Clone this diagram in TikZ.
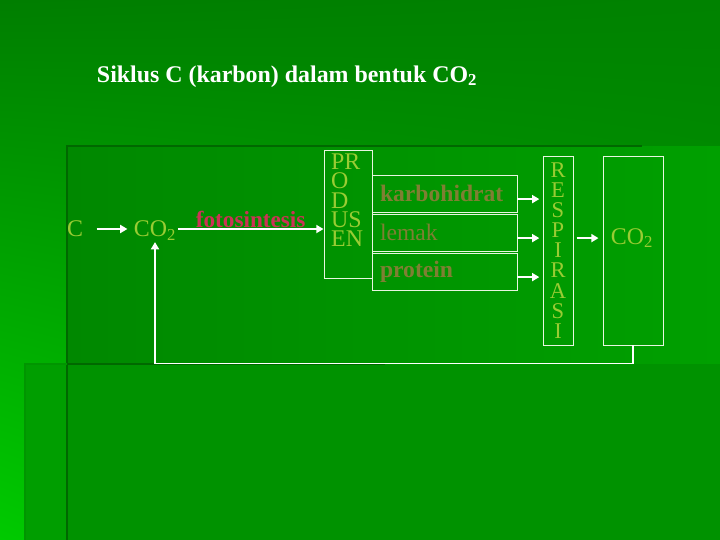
\documentclass[tikz,border=0pt]{standalone}
\usepackage{fontspec}
\setmainfont{Liberation Serif}
\usetikzlibrary{arrows.meta,positioning,shadings}
\definecolor{bgTop}{HTML}{007E00}
\definecolor{bgTopRight}{HTML}{008200}
\definecolor{bgBright}{HTML}{00CA00}
\definecolor{bgLow}{HTML}{009E00}
\definecolor{panelLeft}{HTML}{008800}
\definecolor{panelRight}{HTML}{00A000}
\definecolor{panelLow}{HTML}{009200}
\definecolor{stripLow}{HTML}{009E00}
\definecolor{rule}{HTML}{006800}
\definecolor{lime}{HTML}{99CC33}
\definecolor{olive}{HTML}{7F7F33}
\definecolor{rose}{HTML}{CC3355}
\definecolor{frame}{HTML}{E8F6E0}
\tikzset{
    >={Triangle[length=1.8mm,width=2mm]},
    decor/.style={rule, line width=2pt},
    lime text/.style={text=lime, font=\fontsize{17}{14}\selectfont, inner sep=1pt},
    frame box/.style={draw=frame, line width=0.7pt, inner sep=0pt},
    stuff box/.style={frame box, minimum width=3.625cm, minimum height=0.925cm,
                      text width=3.225cm, inner xsep=0.2cm, align=left, text=olive},
    tall box/.style={frame box, minimum height=4.725cm},
    flow/.style={white, line width=1.4pt, ->},
    title/.style={text=white, font=\bfseries\fontsize{17}{20}\selectfont},
}

\begin{document}
\begin{tikzpicture}

% ---------------------------------------------------------------------------
% background
% ---------------------------------------------------------------------------
\useasboundingbox (0,0) rectangle (18,-13.5);
\shade[upper left=bgTop, upper right=bgTopRight, lower left=bgBright, lower right=bgLow]
    (0,0) rectangle (18,-13.5);
\shade[left color=panelLeft, right color=panelRight] (1.675,-3.65) rectangle (18,-9.1);
\fill[panelLow] (0.625,-9.1) rectangle (18,-13.5);
\fill[stripLow] (0.625,-9.1) rectangle (1.675,-13.5);
\draw[decor] (1.675,-13.5) -- (1.675,-3.65) -- (16.05,-3.65);
\draw[decor] (1.675,-9.1) -- (9.625,-9.1);
\draw[rule!70!green, line width=1pt] (0.625,-13.5) -- (0.625,-9.1) -- (1.675,-9.1);

\node[title, anchor=base west] (title) at (2.3,-2.05)
    {Siklus C (karbon) dalam bentuk CO\textsubscript{2}};

% ---------------------------------------------------------------------------
% cycle
% ---------------------------------------------------------------------------
\node[lime text, anchor=base] (c) at (1.875,-5.92) {C};
\node[lime text, anchor=base] (co2a) at (3.875,-5.92) {CO\textsubscript{2}};

\node[frame box, minimum width=1.2cm, minimum height=3.2cm] (produsen) at (8.7,-5.35) {};
\node[lime text, anchor=north west, align=left, font=\fontsize{17}{13.8}\selectfont]
    (produsenText) at ([shift={(0.15cm,-0.06cm)}]produsen.north west)
    {PR\\O\\D\\US\\EN};

\node[stuff box, font=\bfseries\fontsize{16.8}{18}\selectfont] (karbo) at (11.1125,-4.8375) {karbohidrat};
\node[stuff box, font=\fontsize{16.8}{18}\selectfont] (lemak) at (11.1125,-5.8125) {lemak};
\node[stuff box, font=\bfseries\fontsize{16.8}{18}\selectfont] (protein) at (11.1125,-6.7875) {protein};

\node[tall box, minimum width=0.75cm, align=center, text=lime,
      font=\fontsize{16}{14.3}\selectfont] (respirasi) at (13.95,-6.2625)
    {R\\E\\S\\P\\I\\R\\A\\S\\I};
\node[tall box, minimum width=1.5cm] (co2box) at (15.825,-6.2625) {};
\node[lime text, anchor=base] (co2b) at (15.8,-6.1) {CO\textsubscript{2}};

% arrows
\draw[flow, shorten <=0.3cm, shorten >=0.12cm] (c) -- (co2a.west |- c);
\draw[flow] (co2a.east |- c) -- node[above, inner sep=0.5pt, text=rose,
    font=\bfseries\fontsize{16.5}{18}\selectfont] (foto) {fotosintesis} (produsen.west |- c);
\foreach \b in {karbo,lemak,protein}
    \draw[flow, transform canvas={yshift=-0.14cm}, shorten >=0.08cm]
        (\b.east) -- (respirasi.west |- \b.east);
\draw[flow, transform canvas={yshift=-0.14cm}, shorten <=0.08cm, shorten >=0.1cm]
    (respirasi.east |- lemak) -- (co2box.west |- lemak);

% feedback
\draw[flow] (co2box.south) -- ++(0,-0.45) -| (co2a.south);

\end{tikzpicture}
\end{document}
